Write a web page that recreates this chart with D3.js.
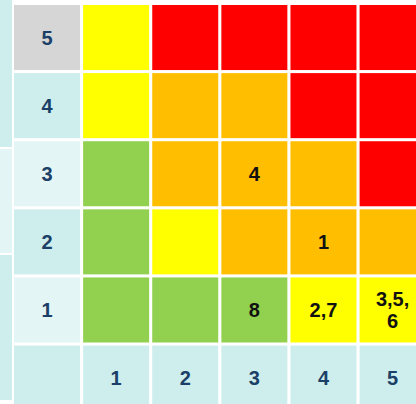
<!DOCTYPE html>
<html>
<head>
<meta charset="utf-8">
<script src="https://cdn.jsdelivr.net/npm/d3@7"></script>
<style>
  body { margin: 0; background: #fff; overflow: hidden; }
  svg { display: block; }
</style>
</head>
<body>
<svg width="416" height="404"></svg>
<script>
// risk matrix data
let likelihood = [5, 4, 3, 2, 1]
let impact = [1, 2, 3, 4, 5]
// level per row (likelihood 5 -> 1), columns impact 1 -> 5
let levels = [
  ["med", "high", "high", "high", "high"],
  ["med", "sig", "sig", "high", "high"],
  ["low", "sig", "sig", "sig", "high"],
  ["low", "med", "sig", "sig", "sig"],
  ["low", "low", "low", "med", "med"]
]
let riskIds = [
  ["", "", "", "", ""],
  ["", "", "", "", ""],
  ["", "", "4", "", ""],
  ["", "", "", "1", ""],
  ["", "", "8", "2,7", "3,5,|6"]
]
let levelColor = { low: "#92d050", med: "#ffff00", sig: "#ffbf00", high: "#ff0000" }

let svg = d3.select("svg")
let font = "bold 20px 'Liberation Sans', Arial, sans-serif"

// left strip (cut-off axis title area)
let strip = [
  { y0: 0, y1: 147, fill: "#cdeeed" },
  { y0: 149, y1: 253, fill: "#e3f5f4" },
  { y0: 255, y1: 400, fill: "#cdeeed" }
]
svg.selectAll(".strip")
  .data(strip)
  .join("rect")
  .attr("x", 0)
  .attr("width", 12)
  .attr("y", d => d.y0)
  .attr("height", d => d.y1 - d.y0)
  .style("fill", d => d.fill)

let x = d3.scaleBand()
  .domain([0].concat(impact))
  .range([14, 14 + 6 * 68.6])
  .paddingInner(0.045)

let y = d3.scaleBand()
  .domain(likelihood.concat([0]))
  .range([5, 5 + 6 * 67.6])
  .paddingInner(0.045)

let cells = []
likelihood.forEach((l, i) => {
  impact.forEach((m, j) => {
    cells.push({ l: l, m: m, level: levels[i][j], id: riskIds[i][j] })
  })
})

svg.selectAll(".cell")
  .data(cells)
  .join("rect")
  .attr("class", "cell")
  .attr("x", d => x(d.m))
  .attr("y", d => y(d.l))
  .attr("width", x.bandwidth())
  .attr("height", y.bandwidth())
  .style("fill", d => levelColor[d.level])

// row labels
let rowFill = { 5: "#d6d6d6", 4: "#cdeeed", 3: "#e3f5f4", 2: "#cdeeed", 1: "#e3f5f4" }
svg.selectAll(".rowlab")
  .data(likelihood)
  .join("rect")
  .attr("x", x(0))
  .attr("y", d => y(d))
  .attr("width", x.bandwidth())
  .attr("height", y.bandwidth())
  .style("fill", d => rowFill[d])

svg.selectAll(".rowtxt")
  .data(likelihood)
  .join("text")
  .attr("x", x(0) + x.bandwidth() / 2)
  .attr("y", d => y(d) + y.bandwidth() / 2)
  .attr("dy", "0.36em")
  .attr("text-anchor", "middle")
  .style("font", font)
  .style("fill", "#1b3f66")
  .text(d => d)

// column labels
svg.selectAll(".colcell")
  .data([0].concat(impact))
  .join("rect")
  .attr("x", d => x(d))
  .attr("y", y(0))
  .attr("width", x.bandwidth())
  .attr("height", y.bandwidth())
  .style("fill", "#cdeeed")

svg.selectAll(".coltxt")
  .data(impact)
  .join("text")
  .attr("x", d => x(d) + x.bandwidth() / 2)
  .attr("y", y(0) + y.bandwidth() / 2)
  .attr("dy", "0.36em")
  .attr("text-anchor", "middle")
  .style("font", font)
  .style("fill", "#1b3f66")
  .text(d => d)

// risk ids in cells
let ids = svg.selectAll(".ids")
  .data(cells.filter(d => d.id !== ""))
  .join("text")
  .attr("x", d => x(d.m) + x.bandwidth() / 2)
  .attr("y", d => y(d.l) + y.bandwidth() / 2)
  .attr("text-anchor", "middle")
  .style("font", font)
  .style("fill", "#111")

ids.each(function (d) {
  let parts = d.id.split("|")
  let t = d3.select(this)
  parts.forEach((p, i) => {
    t.append("tspan")
      .attr("x", x(d.m) + x.bandwidth() / 2)
      .attr("dy", i === 0 ? (0.36 - (parts.length - 1) * 0.55) + "em" : "1.1em")
      .text(p)
  })
})
</script>
</body>
</html>
